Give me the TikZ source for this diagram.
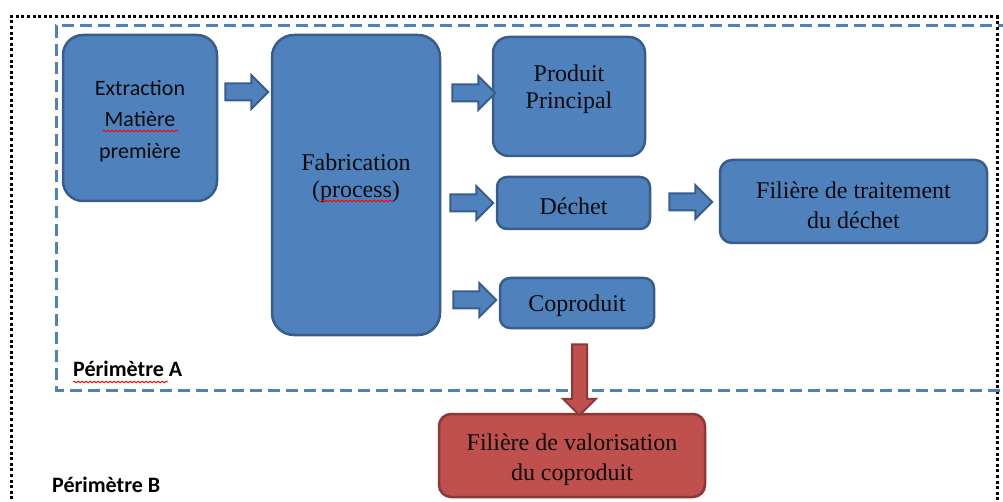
\documentclass[tikz,border=0pt]{standalone}
\usepackage{fontspec}
\setmainfont{Liberation Serif}
\newfontfamily\calfont{Carlito}
\usetikzlibrary{shapes.arrows,calc,decorations.pathmorphing}
\definecolor{bfill}{HTML}{4F81BD}
\definecolor{bdraw}{HTML}{385D8A}
\definecolor{rfill}{HTML}{C0504D}
\definecolor{rdraw}{HTML}{8C3836}
\definecolor{txt}{HTML}{0A0A0A}
\tikzset{
  boxb/.style={draw=bdraw,fill=bfill,line width=2.5pt,inner sep=0pt},
  boxr/.style={draw=rdraw,fill=rfill,line width=2.5pt,inner sep=0pt},
  sertxt/.style={font=\fontsize{24}{27}\selectfont,text=txt,align=center,inner sep=0pt},
  sertxtw/.style={font=\fontsize{24}{30}\selectfont,text=txt,align=center,inner sep=0pt},
  caltxt/.style={font=\calfont\fontsize{22}{31.5}\selectfont,text=txt,align=center,inner sep=0pt},
  perim/.style={font=\calfont\bfseries\fontsize{22}{22}\selectfont,text=black,inner sep=0pt,anchor=base west},
  barrow/.style={single arrow,draw=bdraw,fill=bfill,line width=2pt,inner sep=7.5pt,
    minimum width=34pt,minimum height=43pt,single arrow head extend=8.5pt,anchor=tail},
  rarrow/.style={single arrow,draw=rdraw,fill=rfill,line width=2pt,inner sep=6.5pt,
    minimum width=33pt,minimum height=71pt,single arrow head extend=9pt,anchor=tail,
    shape border rotate=270},
  squig/.style={red,line width=0.8pt,decorate,decoration={snake,segment length=4pt,amplitude=0.9pt}},
}
\begin{document}
\begin{tikzpicture}[x=1pt,y=-1pt]
\useasboundingbox (0,0) rectangle (1003,502);
% perimeters
\draw[line width=3pt,dash pattern=on 3pt off 2.6pt] (11,505) -- (11,17) -- (997,17) -- (997,505);
\draw[bfill,line width=3pt,dash pattern=on 12pt off 6pt] (1010,26) -- (56,26) -- (56,390) -- (1010,390);
% boxes
\node[boxb,rounded corners=20pt,minimum width=154pt,minimum height=166pt] (ext) at (140,118) {};
\node[boxb,rounded corners=22pt,minimum width=168pt,minimum height=300pt] (fab) at (356,185) {};
\node[boxb,rounded corners=16pt,minimum width=152pt,minimum height=119pt] (pp) at (569,96.5) {};
\node[boxb,rounded corners=10pt,minimum width=153pt,minimum height=52pt] (dech) at (573.5,203) {};
\node[boxb,rounded corners=12pt,minimum width=267pt,minimum height=83pt] (fil) at (853.5,201.5) {};
\node[boxb,rounded corners=10pt,minimum width=154pt,minimum height=50pt] (cop) at (577,303) {};
\node[boxr,rounded corners=12pt,minimum width=266pt,minimum height=83pt] (val) at (572,455.5) {};
% texts
\node[caltxt] (extT) at (140,121) {Extraction\\Matière\\première};
\node[sertxt] (fabT) at (356,178) {Fabrication\\(process)};
\node[sertxt] (ppT) at (569,89) {Produit\\Principal};
\node[sertxt] (dechT) at ($(dech.center)+(0,3)$) {Déchet};
\node[sertxtw] (filT) at ($(fil.center)+(0,4)$) {Filière de traitement\\du déchet};
\node[sertxt] (copT) at ($(cop.center)+(0,3)$) {Coproduit};
\node[sertxtw] (valT) at ($(val.center)+(0,4)$) {Filière de valorisation\\du coproduit};
\node[perim] (pA) at (73,376) {Périmètre A};
\node[perim] (pB) at (52,492) {Périmètre B};
% block arrows
\node[barrow] (a1) at ($(ext.east)+(6,-26)$) {};
\node[barrow] (a2) at ($(fab.east)+(10,-92)$) {};
\node[barrow] (a3) at ($(fab.east)+(8,18)$) {};
\node[barrow] (a4) at ($(dech.east)+(17,-1)$) {};
\node[barrow] (a5) at ($(fab.east)+(11,115)$) {};
\node[rarrow] (a6) at ($(cop.south)+(2.5,14)$) {};
% spell-check underlines
\draw[squig] (103,131) -- (178,131);
\draw[squig] (321,201) -- (392,201);
\draw[squig] (73,382) -- (168,382);
\end{tikzpicture}
\end{document}
